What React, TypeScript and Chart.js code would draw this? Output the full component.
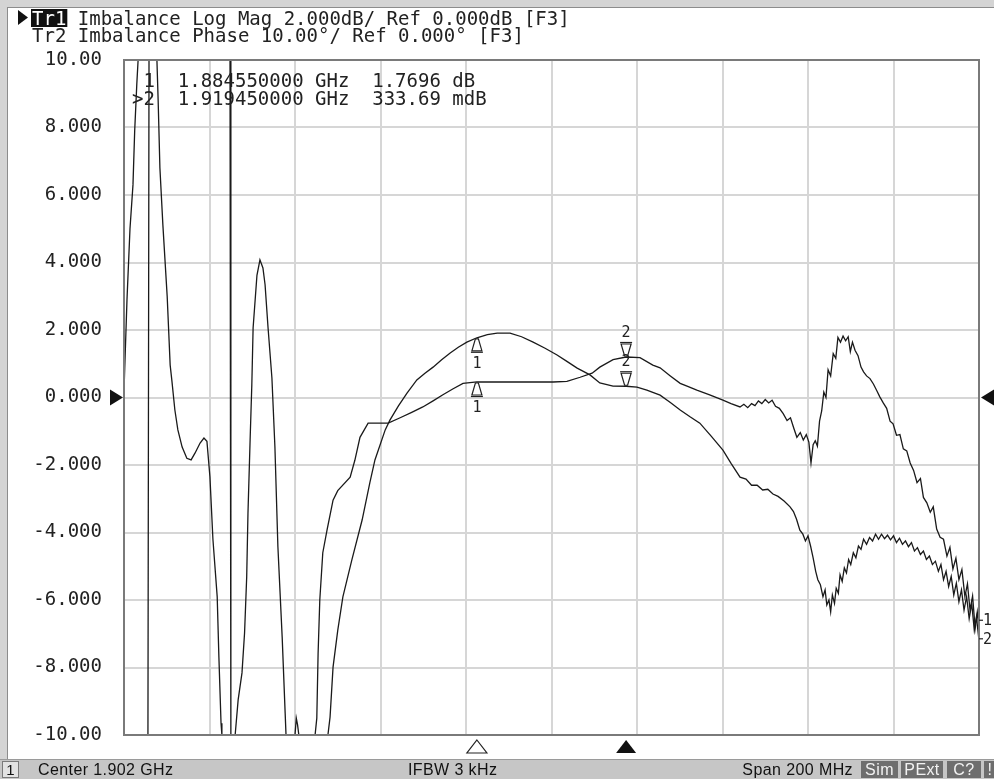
import React, { useEffect, useRef } from "react";
import { Chart, registerables } from "chart.js";

Chart.register(...registerables);

const MONO = '"DejaVu Sans Mono", monospace';
const SANS = '"Liberation Sans", Arial, sans-serif';

// ---- axes ----
const xMinMHz = 1802;
const xMaxMHz = 2002;
const xGridMHz = [1802, 1822, 1842, 1862, 1882, 1902, 1922, 1942, 1962, 1982, 2002];
const yTickValues = [-10, -8, -6, -4, -2, 0, 2, 4, 6, 8, 10];
const yTickLabels = ["-10.00", "-8.000", "-6.000", "-4.000", "-2.000", "0.000", "2.000", "4.000", "6.000", "8.000", "10.00"];

// ---- Tr1: Imbalance Log Mag (MHz, dB) ----
const trace1Points: [number, number][] = [
  [1802.0, 0.2], [1802.7, 2.9], [1803.4, 5.0], [1804.1, 6.3], [1804.5, 7.9], [1805.0, 9.3], [1805.3, 10],
  [1809.7, 10], [1810.0, 8.75], [1810.4, 6.8], [1811.1, 5.1], [1812.1, 3.0], [1812.8, 0.96], [1813.2, 0.5],
  [1813.9, -0.37], [1814.6, -0.96], [1815.6, -1.47], [1816.7, -1.8], [1817.7, -1.85], [1818.6, -1.65],
  [1819.8, -1.35], [1820.7, -1.2], [1821.4, -1.3], [1822.1, -2.35], [1822.8, -4.2], [1823.8, -5.9],
  [1824.2, -7.7], [1824.7, -9.65], [1824.9, -10],
  [1849.7, -10], [1850.2, -9.47], [1850.9, -7.99], [1852.0, -6.9], [1853.2, -5.91], [1855.3, -4.81],
  [1857.7, -3.63], [1859.5, -2.53], [1860.7, -1.85], [1863.1, -0.96], [1864.2, -0.67], [1866.2, -0.25],
  [1868.2, 0.13], [1870.5, 0.52], [1872.4, 0.72], [1874.3, 0.9], [1876.3, 1.12], [1878.3, 1.32],
  [1880.2, 1.49], [1882.2, 1.64], [1884.55, 1.7696], [1887.0, 1.86], [1889.3, 1.91], [1892.3, 1.91],
  [1895.0, 1.8], [1897.7, 1.64], [1900.5, 1.46], [1903.3, 1.26], [1905.6, 1.07], [1908.0, 0.87],
  [1911.0, 0.67], [1913.3, 0.43], [1916.4, 0.34], [1919.45, 0.334], [1922.0, 0.31], [1924.3, 0.22],
  [1927.4, 0.07], [1929.8, -0.15], [1932.1, -0.37], [1934.4, -0.57], [1936.7, -0.76], [1939.4, -1.15],
  [1942.1, -1.56], [1944.0, -1.95], [1946.1, -2.36], [1947.5, -2.42], [1948.8, -2.6], [1950.1, -2.6],
  [1951.4, -2.74], [1952.6, -2.72], [1953.8, -2.86], [1955.0, -2.93], [1956.4, -3.07], [1957.8, -3.24],
  [1958.6, -3.38], [1959.3, -3.6], [1960.1, -3.93], [1960.8, -4.05], [1961.4, -4.25], [1962.0, -4.1],
  [1962.6, -4.4], [1963.2, -4.75], [1963.8, -5.15], [1964.3, -5.4], [1964.9, -5.55], [1965.5, -5.9],
  [1966.0, -5.7], [1966.4, -6.15], [1966.9, -6.0], [1967.3, -6.35], [1967.7, -5.85], [1968.2, -6.1],
  [1968.6, -5.65], [1969.1, -5.8], [1969.5, -5.25], [1970.0, -5.45], [1970.5, -5.05], [1971.0, -5.2],
  [1971.5, -4.8], [1972.0, -4.95], [1972.6, -4.6], [1973.2, -4.75], [1973.8, -4.4], [1974.4, -4.5],
  [1975.0, -4.2], [1975.7, -4.35], [1976.4, -4.15], [1977.1, -4.25], [1977.8, -4.05], [1978.5, -4.2],
  [1979.2, -4.05], [1979.9, -4.18], [1980.6, -4.08], [1981.3, -4.22], [1982.0, -4.1], [1982.7, -4.3],
  [1983.4, -4.17], [1984.1, -4.35], [1984.8, -4.25], [1985.5, -4.42], [1986.2, -4.3], [1986.9, -4.55],
  [1987.6, -4.45], [1988.3, -4.65], [1989.0, -4.55], [1989.7, -4.8], [1990.4, -4.7], [1991.1, -4.95],
  [1991.8, -4.85], [1992.5, -5.15], [1993.1, -4.95], [1993.7, -5.4], [1994.3, -5.15], [1994.9, -5.6],
  [1995.5, -5.3], [1996.1, -5.85], [1996.7, -5.5], [1997.3, -6.05], [1997.9, -5.7], [1998.5, -6.3],
  [1999.1, -5.9], [1999.7, -6.55], [2000.3, -6.1], [2000.9, -6.9], [2001.4, -6.5], [2002.0, -7.2],
];

// ---- Tr2: Imbalance Phase (MHz, degrees) ----
const trace2Points: [number, number][] = [
  [1802.0, -50], [1807.6, -50], [1807.85, 50], [1826.8, 50], [1827.0, -50], [1828.0, -50],
  [1828.7, -44.8], [1829.6, -40.8], [1830.2, -34.9], [1830.7, -26.6], [1831.0, -17.1], [1831.5, -6.3],
  [1831.9, 1.9], [1832.2, 10.3], [1833.1, 18.1], [1833.8, 20.4], [1834.5, 19.2], [1835.0, 16.7],
  [1835.7, 10.3], [1836.6, 2.9], [1837.3, -7.3], [1838.0, -22.1], [1839.0, -35.5], [1839.7, -46.8],
  [1839.9, -50], [1842.0, -50], [1842.3, -47.5], [1842.6, -48.5], [1842.9, -50],
  [1846.7, -50], [1847.1, -47.5], [1847.4, -38], [1847.8, -30], [1848.5, -23], [1849.5, -19.6],
  [1850.9, -15.2], [1852.0, -13.8], [1854.9, -11.8], [1856.0, -9.3], [1857.2, -5.9], [1859.1, -3.8],
  [1863.8, -3.8], [1866.6, -3.0], [1869.3, -2.2], [1871.9, -1.4], [1874.3, -0.5], [1876.6, 0.4],
  [1879.0, 1.3], [1881.3, 2.1], [1884.55, 2.3], [1890.0, 2.3], [1902.4, 2.3], [1905.6, 2.4],
  [1908.7, 3.0], [1911.5, 3.6], [1913.3, 4.5], [1916.4, 5.6], [1919.45, 6.0], [1922.7, 5.9],
  [1925.7, 4.8], [1927.4, 4.4], [1929.8, 3.2], [1932.1, 2.1], [1934.0, 1.6], [1936.0, 1.1],
  [1939.0, 0.4], [1942.1, -0.4], [1944.0, -0.9], [1946.1, -1.4], [1947.0, -1.0], [1947.9, -1.5],
  [1948.8, -0.9], [1949.6, -1.2], [1950.4, -0.5], [1951.2, -0.9], [1952.0, -0.3], [1952.8, -0.8],
  [1953.6, -0.4], [1954.4, -1.3], [1955.3, -1.6], [1956.2, -2.4], [1957.1, -3.4], [1957.9, -3.0],
  [1958.7, -4.6], [1959.4, -5.9], [1960.2, -5.2], [1960.9, -6.3], [1961.6, -5.5], [1962.2, -6.6],
  [1962.7, -9.7], [1963.2, -7.0], [1963.7, -6.4], [1964.2, -7.2], [1964.7, -3.5], [1965.2, -2.0],
  [1965.7, 0.8], [1966.2, 0.0], [1966.7, 4.1], [1967.3, 3.2], [1967.9, 6.5], [1968.5, 5.8],
  [1969.0, 8.9], [1969.6, 8.2], [1970.2, 9.1], [1970.8, 8.4], [1971.4, 9.0], [1971.9, 6.8],
  [1972.4, 8.2], [1973.0, 7.0], [1973.7, 6.2], [1974.4, 4.5], [1975.0, 3.8], [1975.7, 3.2],
  [1976.5, 2.8], [1977.3, 2.0], [1978.1, 1.0], [1978.8, 0.1], [1979.6, -0.8], [1980.4, -1.6],
  [1981.2, -3.5], [1981.9, -3.9], [1982.7, -5.6], [1983.5, -5.5], [1984.3, -7.6], [1985.1, -7.9],
  [1985.9, -9.7], [1986.7, -10.8], [1987.5, -12.6], [1988.3, -12.0], [1989.0, -14.8], [1989.8, -15.6],
  [1990.6, -17.0], [1991.3, -16.2], [1992.1, -19.5], [1992.9, -20.7], [1993.7, -21.0], [1994.5, -23.5],
  [1995.2, -22.2], [1995.9, -25.4], [1996.6, -23.8], [1997.3, -27.0], [1998.0, -25.5], [1998.7, -29.5],
  [1999.3, -27.6], [1999.9, -31.5], [2000.5, -29.4], [2001.1, -34.2], [2001.6, -31.8], [2002.0, -34.0],
];

// ---- markers ----
const markerNames = ["1", "2"];
const markerFreqMHz = [1884.55, 1919.45];
const markerTr1dB = [1.7696, 0.33369];
const markerTr2deg = [2.3, 6.0];
const activeMarker = 1;

// ---- texts ----
const headerTr1 = "Tr1";
const headerLine1 = "Imbalance Log Mag 2.000dB/ Ref 0.000dB [F3]";
const headerLine2 = "Tr2 Imbalance Phase 10.00\u00b0/ Ref 0.000\u00b0 [F3]";
const readoutLines = [" 1  1.884550000 GHz  1.7696 dB", ">2  1.919450000 GHz  333.69 mdB"];
const traceEndLabels = ["1", "2"];
const traceEndValues = [-6.6, -7.15];
const statusChannel = "1";
const statusCenter = "Center 1.902 GHz";
const statusIfbw = "IFBW 3 kHz";
const statusSpan = "Span 200 MHz";
const statusBoxes = ["Sim", "PExt", "C?", "!"];

const W = 994;
const H = 779;

function markerSymbol(ctx: CanvasRenderingContext2D, x: number, y: number, dir: number) {
  ctx.beginPath();
  ctx.moveTo(x - 1.5, y + dir * 1);
  ctx.lineTo(x + 1.5, y + dir * 1);
  ctx.lineTo(x + 5, y + dir * 13);
  ctx.lineTo(x - 5, y + dir * 13);
  ctx.closePath();
  ctx.stroke();
  ctx.beginPath();
  ctx.moveTo(x - 6, y + dir * 14.5);
  ctx.lineTo(x + 6, y + dir * 14.5);
  ctx.stroke();
}

const decorPlugin = {
  id: "vnaDecor",
  beforeDraw(chart: any) {
    const ctx: CanvasRenderingContext2D = chart.ctx;
    ctx.save();
    ctx.fillStyle = "#ffffff";
    ctx.fillRect(0, 0, W, H);
    // window frame
    ctx.fillStyle = "#d4d4d4";
    ctx.fillRect(0, 0, W, 7);
    ctx.fillRect(0, 0, 8, H);
    ctx.fillStyle = "#8c8c8c";
    ctx.fillRect(7, 7, W - 7, 1);
    ctx.fillRect(7, 7, 1, H - 7);
    ctx.restore();
  },
  afterDatasetsDraw(chart: any) {
    const ctx: CanvasRenderingContext2D = chart.ctx;
    const a = chart.chartArea;
    const xs = chart.scales.x;
    const y1 = chart.scales.y;
    const y2 = chart.scales.y2;
    ctx.save();
    // graticule border
    ctx.strokeStyle = "#7a7a7a";
    ctx.lineWidth = 2;
    ctx.strokeRect(a.left, a.top, a.right - a.left, a.bottom - a.top);

    // reference level arrows
    const y0 = y1.getPixelForValue(0);
    ctx.fillStyle = "#111";
    ctx.beginPath();
    ctx.moveTo(a.left - 14, y0 - 8);
    ctx.lineTo(a.left - 14, y0 + 8);
    ctx.lineTo(a.left - 1, y0);
    ctx.closePath();
    ctx.fill();
    ctx.beginPath();
    ctx.moveTo(W, y0 - 8);
    ctx.lineTo(W, y0 + 8);
    ctx.lineTo(a.right + 2, y0);
    ctx.closePath();
    ctx.fill();

    // markers
    ctx.strokeStyle = "#222";
    ctx.fillStyle = "#222";
    ctx.lineWidth = 1.2;
    ctx.font = `15px ${MONO}`;
    ctx.textAlign = "center";
    ctx.textBaseline = "alphabetic";
    markerFreqMHz.forEach((f, i) => {
      const px = xs.getPixelForValue(f);
      const active = i === activeMarker;
      const dir = active ? -1 : 1;
      const pts: [any, number][] = [[y1, markerTr1dB[i]], [y2, markerTr2deg[i]]];
      pts.forEach(([sc, v]) => {
        const py = sc.getPixelForValue(v);
        markerSymbol(ctx, px, py, dir);
        ctx.fillText(markerNames[i], px, active ? py - 20 : py + 30);
      });
      ctx.beginPath();
      ctx.moveTo(px, a.bottom + 5);
      ctx.lineTo(px + 10, a.bottom + 18);
      ctx.lineTo(px - 10, a.bottom + 18);
      ctx.closePath();
      if (active) {
        ctx.fillStyle = "#111";
        ctx.fill();
      } else {
        ctx.stroke();
      }
      ctx.fillStyle = "#222";
    });

    // trace end labels
    ctx.textAlign = "left";
    traceEndLabels.forEach((t, i) => {
      const py = y1.getPixelForValue(traceEndValues[i]);
      ctx.fillText(t, a.right + 4, py + 5);
      ctx.beginPath();
      ctx.moveTo(a.right, py);
      ctx.lineTo(a.right + 4, py);
      ctx.stroke();
    });
    ctx.restore();
  },
  afterDraw(chart: any) {
    const ctx: CanvasRenderingContext2D = chart.ctx;
    ctx.save();
    ctx.textBaseline = "alphabetic";
    ctx.textAlign = "left";
    ctx.font = `19px ${MONO}`;
    // header
    ctx.fillStyle = "#111";
    ctx.beginPath();
    ctx.moveTo(18, 10);
    ctx.lineTo(18, 25);
    ctx.lineTo(28, 17.5);
    ctx.closePath();
    ctx.fill();
    const trW = ctx.measureText(headerTr1).width;
    ctx.fillRect(31, 9, trW + 2, 18);
    ctx.fillStyle = "#ffffff";
    ctx.fillText(headerTr1, 32, 25);
    ctx.fillStyle = "#222";
    ctx.fillText(headerLine1, 32 + ctx.measureText(headerTr1 + " ").width, 25);
    ctx.fillText(headerLine2, 32, 42);
    // marker readout
    readoutLines.forEach((l, i) => ctx.fillText(l, 132, 87 + i * 18));

    // status bar
    const sy = 759;
    ctx.fillStyle = "#c6c6c6";
    ctx.fillRect(0, sy, W, H - sy);
    ctx.fillStyle = "#9a9a9a";
    ctx.fillRect(0, sy, W, 1);
    // channel box
    ctx.fillStyle = "#e2e2e2";
    ctx.fillRect(2, sy + 2, 16, H - sy - 3);
    ctx.strokeStyle = "#7a7a7a";
    ctx.lineWidth = 1;
    ctx.strokeRect(2.5, sy + 2.5, 16, H - sy - 4);
    ctx.fillStyle = "#111";
    ctx.font = `15px ${SANS}`;
    ctx.textAlign = "center";
    ctx.fillText(statusChannel, 10.5, 775);
    ctx.textAlign = "left";
    ctx.font = `16px ${SANS}`;
    (ctx as any).letterSpacing = "0.4px";
    ctx.fillText(statusCenter, 38, 775);
    ctx.fillText(statusIfbw, 408, 775);
    ctx.textAlign = "right";
    ctx.fillText(statusSpan, 853, 775);
    // status boxes
    const boxX = [861, 901, 947, 984];
    const boxW = [37, 42, 34, 12];
    ctx.textAlign = "center";
    statusBoxes.forEach((t, i) => {
      ctx.fillStyle = "#6e6e6e";
      ctx.fillRect(boxX[i], sy + 2, boxW[i], H - sy - 3);
      ctx.fillStyle = "#f2f2f2";
      ctx.fillText(t, boxX[i] + boxW[i] / 2, 775);
    });
    ctx.restore();
  },
};

export default function App() {
  const ref = useRef<HTMLCanvasElement | null>(null);
  useEffect(() => {
    if (!ref.current) return;
    const chart = new Chart(ref.current, {
      type: "line",
      data: {
        datasets: [
          {
            label: "Tr1",
            data: trace1Points.map(([x, y]) => ({ x, y })),
            yAxisID: "y",
            borderColor: "#1a1a1a",
            borderWidth: 1.3,
            pointRadius: 0,
            tension: 0,
          },
          {
            label: "Tr2",
            data: trace2Points.map(([x, y]) => ({ x, y })),
            yAxisID: "y2",
            borderColor: "#1a1a1a",
            borderWidth: 1.3,
            pointRadius: 0,
            tension: 0,
          },
        ],
      },
      options: {
        animation: false,
        responsive: false,
        devicePixelRatio: 1,
        layout: { padding: { left: 0, top: 60, right: 15, bottom: 44 } },
        plugins: { legend: { display: false }, tooltip: { enabled: false } },
        events: [],
        scales: {
          x: {
            type: "linear",
            min: xMinMHz,
            max: xMaxMHz,
            afterBuildTicks: (s: any) => {
              s.ticks = xGridMHz.map((v) => ({ value: v }));
            },
            afterFit: (s: any) => {
              s.height = 0;
            },
            ticks: { display: false },
            grid: { color: "#d6d6d6", lineWidth: 2, drawTicks: false },
            border: { display: false },
          },
          y: {
            type: "linear",
            position: "left",
            min: -10,
            max: 10,
            afterBuildTicks: (s: any) => {
              s.ticks = yTickValues.map((v) => ({ value: v }));
            },
            afterFit: (s: any) => {
              s.width = 124;
            },
            ticks: {
              padding: 22,
              color: "#222",
              font: { family: MONO, size: 19 },
              callback: (v: any) => {
                const i = yTickValues.indexOf(Number(v));
                return i >= 0 ? yTickLabels[i] : "";
              },
            },
            grid: { color: "#d6d6d6", lineWidth: 2, drawTicks: false },
            border: { display: false },
          },
          y2: {
            type: "linear",
            display: false,
            min: -50,
            max: 50,
          },
        },
      } as any,
      plugins: [decorPlugin],
    });
    return () => chart.destroy();
  }, []);
  return (
    <div style={{ position: "fixed", left: 0, top: 0, width: W, height: H, background: "#fff" }}>
      <canvas ref={ref} width={W} height={H} style={{ display: "block", width: W, height: H }} />
    </div>
  );
}
